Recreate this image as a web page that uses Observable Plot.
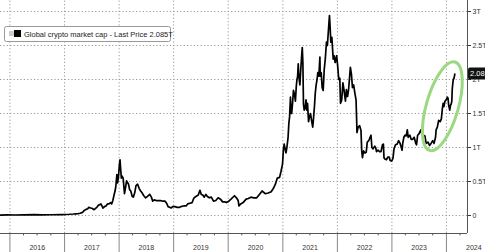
<!DOCTYPE html>
<html>
<head>
<meta charset="utf-8">
<script src="https://cdn.jsdelivr.net/npm/d3@7"></script>
<script src="https://cdn.jsdelivr.net/npm/@observablehq/plot@0.6"></script>
<style>
  html, body { margin: 0; padding: 0; background: #fff; }
  #chart svg { display: block; }
</style>
</head>
<body>
<div id="chart"></div>
<script>
// ---- data: global crypto market cap (trillions USD) ----
const dates = [
  "2015-10-30","2015-12-15","2016-02-01","2016-04-01","2016-06-15","2016-08-01","2016-10-01","2016-12-15",
  "2017-02-01","2017-03-01","2017-03-15","2017-04-01","2017-04-15","2017-05-01","2017-05-10","2017-05-25",
  "2017-06-05","2017-06-12","2017-06-25","2017-07-05","2017-07-15","2017-07-25","2017-08-05","2017-08-15",
  "2017-08-25","2017-09-01","2017-09-08","2017-09-15","2017-09-25","2017-10-05","2017-10-15","2017-10-25",
  "2017-11-05","2017-11-12","2017-11-20","2017-11-28","2017-12-05","2017-12-10","2017-12-17","2017-12-22",
  "2017-12-28","2018-01-03","2018-01-07","2018-01-10","2018-01-16","2018-01-20","2018-01-28","2018-02-06",
  "2018-02-12","2018-02-20","2018-03-05","2018-03-12","2018-03-20","2018-03-30","2018-04-06","2018-04-15",
  "2018-04-24","2018-05-05","2018-05-15","2018-05-25","2018-06-05","2018-06-15","2018-06-28","2018-07-10",
  "2018-07-25","2018-08-05","2018-08-14","2018-08-25","2018-09-05","2018-09-20","2018-10-05","2018-10-20",
  "2018-11-05","2018-11-15","2018-11-25","2018-12-05","2018-12-15","2018-12-25","2019-01-10","2019-01-25",
  "2019-02-10","2019-02-25","2019-03-10","2019-03-25","2019-04-05","2019-04-20","2019-05-05","2019-05-15",
  "2019-05-30","2019-06-15","2019-06-26","2019-07-05","2019-07-15","2019-07-25","2019-08-05","2019-08-15",
  "2019-08-28","2019-09-10","2019-09-25","2019-10-10","2019-10-26","2019-11-10","2019-11-25","2019-12-10",
  "2019-12-20","2020-01-05","2020-01-20","2020-02-12","2020-02-25","2020-03-08","2020-03-13","2020-03-25",
  "2020-04-10","2020-04-30","2020-05-15","2020-06-01","2020-06-20","2020-07-10","2020-07-28","2020-08-15",
  "2020-09-05","2020-09-25","2020-10-15","2020-10-30","2020-11-12","2020-11-25","2020-12-10","2020-12-20",
  "2020-12-30","2021-01-05","2021-01-10","2021-01-16","2021-01-22","2021-01-28","2021-02-05","2021-02-10",
  "2021-02-15","2021-02-21","2021-02-25","2021-03-01","2021-03-07","2021-03-13","2021-03-20","2021-03-26",
  "2021-04-01","2021-04-05","2021-04-10","2021-04-14","2021-04-18","2021-04-25","2021-05-01","2021-05-07",
  "2021-05-11","2021-05-15","2021-05-19","2021-05-24","2021-05-30","2021-06-05","2021-06-10","2021-06-15",
  "2021-06-22","2021-06-28","2021-07-05","2021-07-12","2021-07-20","2021-07-26","2021-08-01","2021-08-06",
  "2021-08-12","2021-08-18","2021-08-23","2021-08-30","2021-09-06","2021-09-08","2021-09-15","2021-09-21",
  "2021-09-28","2021-10-05","2021-10-12","2021-10-20","2021-10-26","2021-11-02","2021-11-09","2021-11-14",
  "2021-11-18","2021-11-25","2021-12-04","2021-12-10","2021-12-17","2021-12-27","2022-01-03","2022-01-10",
  "2022-01-17","2022-01-22","2022-01-30","2022-02-07","2022-02-14","2022-02-24","2022-03-02","2022-03-10",
  "2022-03-17","2022-03-29","2022-04-05","2022-04-12","2022-04-20","2022-04-28","2022-05-06","2022-05-10",
  "2022-05-12","2022-05-20","2022-05-30","2022-06-08","2022-06-13","2022-06-18","2022-06-25","2022-07-05",
  "2022-07-13","2022-07-20","2022-07-30","2022-08-08","2022-08-14","2022-08-20","2022-08-28","2022-09-08",
  "2022-09-14","2022-09-20","2022-09-30","2022-10-10","2022-10-20","2022-10-30","2022-11-05","2022-11-09",
  "2022-11-15","2022-11-25","2022-12-05","2022-12-14","2022-12-20","2022-12-30","2023-01-08","2023-01-15",
  "2023-01-25","2023-02-05","2023-02-15","2023-02-25","2023-03-05","2023-03-10","2023-03-15","2023-03-22",
  "2023-03-30","2023-04-07","2023-04-14","2023-04-20","2023-05-01","2023-05-10","2023-05-20","2023-05-30",
  "2023-06-10","2023-06-15","2023-06-22","2023-07-01","2023-07-14","2023-07-20","2023-08-01","2023-08-10",
  "2023-08-18","2023-08-30","2023-09-10","2023-09-20","2023-10-01","2023-10-10","2023-10-20","2023-10-24",
  "2023-11-01","2023-11-10","2023-11-20","2023-11-28","2023-12-05","2023-12-10","2023-12-15","2023-12-22",
  "2023-12-30","2024-01-08","2024-01-12","2024-01-16","2024-01-23","2024-01-28","2024-02-02","2024-02-06",
  "2024-02-09","2024-02-13","2024-02-16","2024-02-21","2024-02-26"
];
const marketCap = [
  0.006,0.008,0.007,0.008,0.012,0.010,0.011,0.014,
  0.018,0.022,0.025,0.027,0.033,0.045,0.07,0.09,
  0.10,0.12,0.11,0.105,0.085,0.10,0.12,0.15,
  0.16,0.17,0.14,0.11,0.13,0.14,0.17,0.17,
  0.19,0.17,0.22,0.30,0.36,0.43,0.60,0.48,
  0.58,0.75,0.82,0.72,0.55,0.58,0.55,0.32,
  0.40,0.51,0.46,0.38,0.36,0.28,0.27,0.33,
  0.44,0.46,0.40,0.36,0.33,0.29,0.26,0.28,
  0.31,0.27,0.21,0.23,0.22,0.22,0.22,0.21,
  0.21,0.18,0.13,0.12,0.11,0.13,0.13,0.12,
  0.12,0.135,0.14,0.14,0.17,0.18,0.19,0.25,
  0.28,0.30,0.37,0.31,0.30,0.27,0.31,0.28,
  0.26,0.27,0.21,0.22,0.26,0.24,0.20,0.20,
  0.19,0.21,0.24,0.29,0.26,0.22,0.14,0.17,
  0.19,0.24,0.25,0.27,0.26,0.26,0.31,0.36,
  0.32,0.33,0.35,0.40,0.46,0.55,0.56,0.65,
  0.76,0.98,1.05,0.98,0.92,1.00,1.15,1.35,
  1.45,1.74,1.50,1.50,1.65,1.84,1.78,1.68,
  1.90,1.99,2.05,2.23,2.05,1.92,2.15,2.35,
  2.47,2.25,1.64,1.55,1.58,1.70,1.55,1.65,
  1.38,1.45,1.50,1.40,1.30,1.45,1.62,1.80,
  1.92,2.00,2.10,2.05,2.33,2.05,2.10,1.88,
  1.84,2.15,2.30,2.55,2.50,2.72,2.94,2.75,
  2.55,2.62,2.30,2.35,2.25,2.35,2.20,2.00,
  2.02,1.65,1.70,1.95,1.85,1.68,1.85,1.75,
  1.85,2.18,2.08,1.88,1.92,1.80,1.70,1.40,
  1.22,1.30,1.32,1.25,0.95,0.85,0.95,0.92,
  0.93,1.08,1.10,1.15,1.18,1.00,0.98,1.02,
  1.00,0.94,0.96,0.94,0.94,1.04,1.05,0.85,
  0.83,0.82,0.86,0.86,0.81,0.80,0.84,0.98,
  1.04,1.05,1.10,1.06,1.00,0.96,1.07,1.15,
  1.18,1.17,1.26,1.15,1.18,1.12,1.12,1.15,
  1.06,1.04,1.18,1.20,1.26,1.20,1.18,1.17,
  1.06,1.08,1.03,1.06,1.10,1.06,1.15,1.26,
  1.30,1.40,1.38,1.42,1.58,1.65,1.60,1.68,
  1.70,1.74,1.72,1.62,1.55,1.62,1.64,1.68,
  1.86,1.95,2.00,2.02,2.08
];
const yTicks = [0, 0.5, 1, 1.5, 2, 2.5, 3];
const yTickLabels = ["0", "0.5T", "1T", "1.5T", "2T", "2.5T", "3T"];
const years = [2016, 2017, 2018, 2019, 2020, 2021, 2022, 2023, 2024];
const legendText = "Global crypto market cap - Last Price 2.085T";
const lastLabel = "2.08";
const circleCenter = {date: "2023-12-08", value: 1.6};

// ---- build ----
const data = dates.map((d, i) => ({date: new Date(d), value: marketCap[i]}));
const xMin = new Date("2015-10-30"), xMax = new Date("2024-05-21");
const yMin = -0.265, yMax = 3.162;
const yearStarts = years.map(y => new Date(Date.UTC(y, 0, 1)));
const yearMids = years.map(y => new Date(Date.UTC(y, 6, 2)));
const quarters = [];
for (const y of [2015, ...years]) for (const m of [3, 6, 9]) {
  const q = new Date(Date.UTC(y, m, 1));
  if (q > xMin && q < xMax) quarters.push(q);
}
const lblFor = new Map(yTicks.map((t, i) => [t, yTickLabels[i]]));
const font = "'Liberation Sans', Arial, sans-serif";

const chart = Plot.plot({
  width: 485,
  height: 252,
  marginTop: 0,
  marginRight: 18,
  marginBottom: 19,
  marginLeft: 0,
  style: {fontFamily: font, fontSize: "7px", color: "#333", background: "#fff", overflow: "visible"},
  x: {type: "utc", domain: [xMin, xMax], axis: null},
  y: {domain: [yMin, yMax], axis: "right", ticks: yTicks, tickFormat: d => lblFor.get(d), tickSize: 3, tickPadding: 2, label: null},
  marks: [
    Plot.ruleY(yTicks, {stroke: "#999", strokeDasharray: "1.2,2.2", strokeWidth: 1}),
    Plot.ruleX(yearStarts, {y1: yMin, y2: yMax, stroke: "#999", strokeDasharray: "1.2,2.2", strokeWidth: 1}),
    Plot.ruleX(yearStarts, {y1: yMin, y2: yMin - 0.3, stroke: "#888", strokeWidth: 1}),
    Plot.ruleX(quarters, {y1: yMin, y2: yMin - 0.035, stroke: "#555", strokeWidth: 1}),
    Plot.ruleY([yMin], {stroke: "#555", strokeWidth: 1}),
    Plot.ruleX([xMax], {y1: yMin, y2: yMax, stroke: "#555", strokeWidth: 1}),
    Plot.text(years, {x: (d, i) => yearMids[i], y: yMin - 0.21, text: d => String(d), fill: "#333", fontSize: 7}),
    Plot.line(data, {x: "date", y: "value", stroke: "#000", strokeWidth: 1.7, strokeLinejoin: "round"})
  ]
});
document.getElementById("chart").appendChild(chart);

// ---- annotations positioned through the chart's scales ----
const sx = chart.scale("x"), sy = chart.scale("y");
const svg = d3.select(chart);

// green circle around the late rally
const cx = sx.apply(new Date(circleCenter.date)), cy = sy.apply(circleCenter.value);
svg.append("ellipse")
  .attr("cx", 0).attr("cy", 0).attr("rx", 16).attr("ry", 46)
  .attr("transform", `translate(${cx},${cy}) rotate(16)`)
  .attr("fill", "none").attr("stroke", "#9ad97f").attr("stroke-width", 3);

// last price tag
const last = data[data.length - 1];
const ly = sy.apply(last.value);
const lx = sx.apply(xMax);
const tag = svg.append("g").attr("transform", `translate(${lx + 1},${ly})`);
tag.append("rect").attr("x", 0).attr("y", -6).attr("width", 20).attr("height", 12).attr("rx", 2).attr("fill", "#111");
tag.append("text").attr("x", 2).attr("y", 0).attr("dy", "0.35em").attr("fill", "#fff")
  .attr("text-anchor", "start").attr("font-size", 7.5).attr("font-family", font).text(lastLabel);

// legend box
const lg = svg.append("g").attr("transform", "translate(4,26)");
lg.append("rect").attr("x", 0.5).attr("y", 0.5).attr("width", 166).attr("height", 15).attr("rx", 2)
  .attr("fill", "#fff").attr("stroke", "#999");
lg.append("rect").attr("x", 5).attr("y", 5).attr("width", 5).attr("height", 5).attr("fill", "#ccc");
lg.append("rect").attr("x", 10).attr("y", 4).attr("width", 7).attr("height", 7).attr("fill", "#000");
lg.append("text").attr("x", 20).attr("y", 8).attr("dy", "0.35em").attr("fill", "#222")
  .attr("text-anchor", "start").attr("font-size", 7.5).attr("font-family", font).text(legendText);
</script>
</body>
</html>
